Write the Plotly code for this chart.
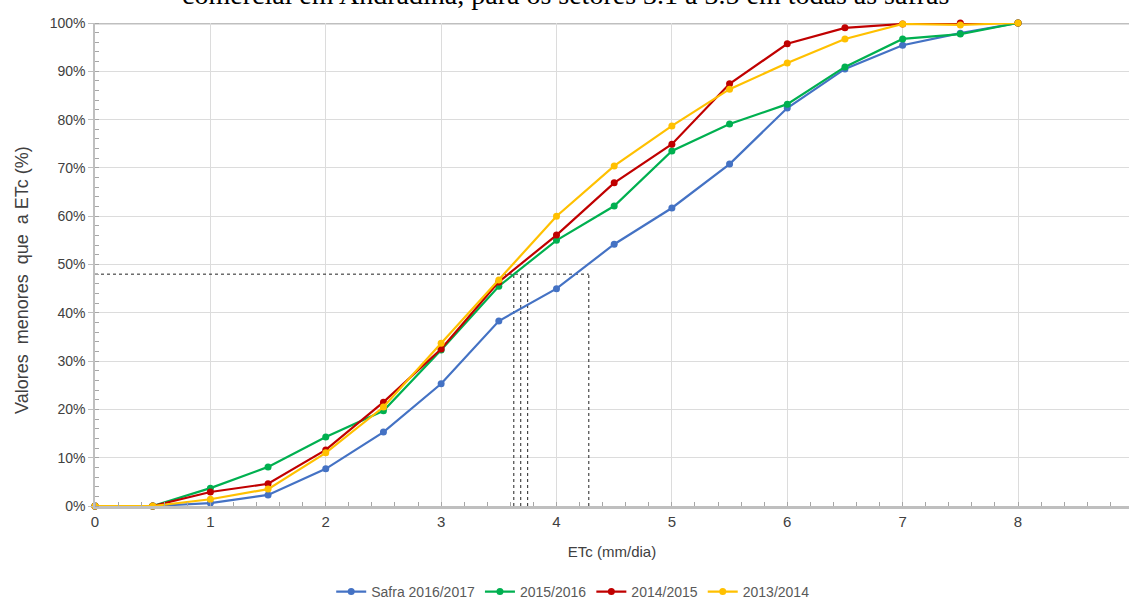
import plotly.graph_objects as go

etc = [0, 0.5, 1, 1.5, 2, 2.5, 3, 3.5, 4, 4.5, 5, 5.5, 6, 6.5, 7, 7.5, 8]
safra_2016_2017 = [0, 0, 0.6, 2.3, 7.7, 15.3, 25.3, 38.3, 45.0, 54.2, 61.7, 70.8, 82.4, 90.5, 95.4, 97.9, 100]
safra_2015_2016 = [0, 0, 3.7, 8.1, 14.3, 19.7, 32.3, 45.5, 55.0, 62.1, 73.5, 79.1, 83.2, 90.9, 96.7, 97.7, 100]
safra_2014_2015 = [0, 0, 2.9, 4.6, 11.6, 21.5, 32.5, 46.4, 56.1, 66.9, 74.9, 87.4, 95.7, 99.0, 99.8, 100, 100]
safra_2013_2014 = [0, 0, 1.4, 3.5, 11.0, 20.5, 33.7, 46.8, 60.0, 70.4, 78.7, 86.3, 91.7, 96.7, 99.8, 99.6, 100]

series_names = ["Safra 2016/2017", "2015/2016", "2014/2015", "2013/2014"]
series_values = [safra_2016_2017, safra_2015_2016, safra_2014_2015, safra_2013_2014]
colors = ["#4472C4", "#00B050", "#C00000", "#FFC000"]

ref_pct = 48
etc_at_ref = [3.63, 3.69, 3.75, 4.28]

x_ticks = [0, 1, 2, 3, 4, 5, 6, 7, 8]
y_ticks = [0, 10, 20, 30, 40, 50, 60, 70, 80, 90, 100]

title_text = "comercial em Andradina, para os setores 3.1 a 3.5 em todas as safras"
y_title = "Valores  menores  que  a ETc (%)"
x_title = "ETc (mm/dia)"

font_family = "Liberation Sans, Arial, sans-serif"
txt_color = "#404040"

fig = go.Figure()

# reference dotted lines
fig.add_trace(go.Scatter(x=[0, max(etc_at_ref)], y=[ref_pct, ref_pct], mode="lines",
                         line=dict(color="#222222", width=1, dash="dot"),
                         showlegend=False, hoverinfo="skip"))
for xv in etc_at_ref:
    fig.add_trace(go.Scatter(x=[xv, xv], y=[0, ref_pct], mode="lines",
                             line=dict(color="#222222", width=1, dash="dot"),
                             showlegend=False, hoverinfo="skip"))

for name, vals, c in zip(series_names, series_values, colors):
    fig.add_trace(go.Scatter(x=etc, y=vals, mode="lines+markers", name=name,
                             line=dict(color=c, width=2.2),
                             marker=dict(color=c, size=7),
                             cliponaxis=False))

x_max = 8.962

fig.update_layout(
    width=1129, height=599,
    margin=dict(l=95, r=0, t=23, b=93, autoexpand=False),
    plot_bgcolor="white", paper_bgcolor="white",
    font=dict(family=font_family, color=txt_color, size=13),
    xaxis=dict(range=[0, x_max], tickvals=x_ticks, ticktext=[str(v) for v in x_ticks],
               showgrid=True, gridcolor="#dcdcdc", gridwidth=1,
               showline=True, linecolor="#bfbfbf", linewidth=3,
               ticks="", zeroline=False,
               minor=dict(dtick=0.2, ticks="inside", ticklen=4, tickcolor="#a6a6a6", showgrid=False),
               title=dict(text=x_title, font=dict(size=15, color=txt_color), standoff=18),
               tickfont=dict(size=15, color=txt_color)),
    yaxis=dict(range=[0, 100], tickvals=y_ticks, ticktext=[f"{v}%" for v in y_ticks],
               showgrid=True, gridcolor="#dcdcdc", gridwidth=1,
               showline=True, linecolor="#bfbfbf", linewidth=1.5,
               ticks="outside", ticklen=5, tickcolor="#bfbfbf", zeroline=False,
               minor=dict(dtick=2, ticks="inside", ticklen=4, tickcolor="#a6a6a6", showgrid=False),
               tickfont=dict(size=14, color=txt_color)),
    legend=dict(orientation="h", x=0.462, xanchor="center", y=-0.178, yanchor="middle",
                font=dict(size=14, color="#595959"), itemwidth=30),
    showlegend=True,
)

# y-axis title
fig.add_annotation(text=y_title, xref="paper", yref="paper", x=(22 - 95) / 1034, y=(506 - 280) / 483,
                   textangle=-90, showarrow=False, xanchor="center", yanchor="middle",
                   font=dict(size=18, color=txt_color))

# top border line at 100%
fig.add_shape(type="line", xref="paper", yref="y", x0=0, x1=1, y0=100, y1=100,
              line=dict(color="#bfbfbf", width=3), layer="below")

# tick label "9" at the clipped right edge
fig.add_annotation(text="9", xref="paper", yref="paper", x=9 / x_max, y=0, yshift=-16,
                   showarrow=False, xanchor="center", yanchor="middle",
                   font=dict(size=15, color=txt_color))

# partially visible caption above the chart
fig.add_annotation(text=title_text, xref="paper", yref="paper", x=(565 - 95) / 1034, y=(506 - 12) / 483,
                   showarrow=False, xanchor="center", yanchor="bottom",
                   font=dict(family="Liberation Serif, Times New Roman, serif", size=28, color="#000000"))

fig.write_html("out.html")
